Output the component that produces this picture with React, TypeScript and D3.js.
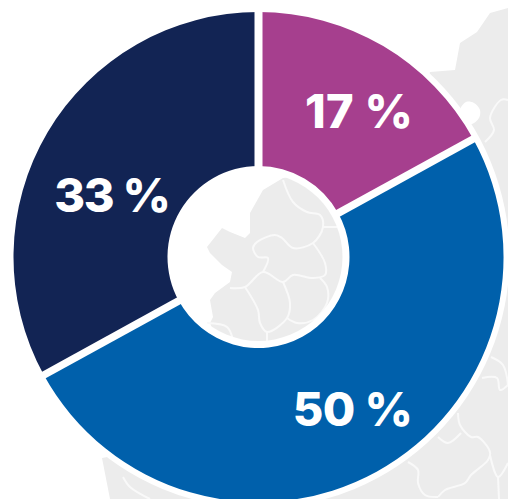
import React from "react";
import * as d3 from "d3";

const labels = ["17 %", "50 %", "33 %"];
const values = [17, 50, 33];
const colors = ["#a63f8e", "#0060ab", "#122454"];
const labelPos: [number, number][] = [[359, 128], [352.5, 426], [112, 212]];
const labelSpacing = [0.3, -0.6, -1.2];

type Pt = [number, number];

// Decorative background map, outlines as [x, y] pairs
const landOuter: Pt[] = [
  [508, 8], [490, 13], [477, 32], [460, 43], [455, 70], [430, 72], [420, 100], [440, 200], [400, 350], [200, 440], [102, 458], [110, 499], [508, 499],
];
const bay: Pt[] = [
  [460, 110], [466, 102], [474, 103], [480, 110], [479, 118], [472, 124], [462, 125],
];
const landHole: Pt[] = [
  [283, 178], [263, 190], [250, 213], [250, 233], [245, 238], [230, 232], [222, 228], [207, 247], [210, 253], [222, 265], [232, 272], [230, 282], [215, 293], [210, 300], [213, 317], [210, 323], [220, 350], [340, 350], [350, 170],
];
const bordersHole: Pt[][] = [
  [[283, 180], [293, 202], [307, 212], [320, 215], [323, 227], [313, 243], [293, 248], [282, 238], [275, 235], [257, 242], [253, 248], [258, 257], [268, 258], [263, 272]],
  [[323, 227], [337, 227]],
  [[313, 243], [325, 263], [325, 275], [313, 278], [293, 275], [283, 282], [263, 272], [245, 287], [230, 288]],
  [[245, 287], [258, 310], [260, 323], [267, 332], [287, 318], [290, 303], [283, 282]],
  [[267, 332], [267, 342]],
  [[287, 318], [297, 323], [313, 320], [327, 303], [327, 287], [320, 278]],
  [[207, 323], [227, 327], [233, 340]],
];
const bordersOuter: Pt[][] = [
  [[508, 100], [501, 100], [490, 118], [494, 130], [485, 142]],
  [[491, 357], [503, 365], [508, 385]],
  [[482, 378], [497, 378], [500, 390], [508, 385]],
  [[458, 413], [460, 425], [471, 437], [478, 437], [490, 452], [488, 460], [471, 475], [465, 483], [445, 490], [438, 497]],
  [[438, 437], [448, 443], [461, 433]],
  [[490, 455], [498, 477], [508, 463]],
  [[498, 477], [499, 499]],
  [[408, 462], [418, 470], [418, 483], [425, 495], [438, 497]],
  [[123, 477], [130, 487], [150, 499]],
];

const width = 508;
const height = 499;
const cx = 258.5;
const cy = 257;
const outer = 245;
const inner = 91;

export default function App() {
  const pie = d3.pie<number>().sort(null)(values);
  const arc = d3.arc<d3.PieArcDatum<number>>().innerRadius(inner).outerRadius(outer);
  const poly = d3.line();
  const open = d3.line().curve(d3.curveCatmullRom.alpha(0.5));
  const blob = d3.line().curve(d3.curveCatmullRomClosed.alpha(0.5));
  const map = (land: Pt[], borders: Pt[][], extra?: React.ReactNode) => (
    <g filter="url(#soft)">
      <path d={poly(land)! + "Z"} fill="#ececec" />
      {extra}
      <g fill="none" stroke="#f9f9f9" strokeWidth={2}>
        {borders.map((b, i) => (
          <path key={i} d={open(b)!} />
        ))}
      </g>
    </g>
  );
  return (
    <svg width={width} height={height} style={{ position: "absolute", left: 0, top: 0, background: "#fff" }}>
      <defs>
        <filter id="soft" x="-5%" y="-5%" width="110%" height="110%">
          <feGaussianBlur stdDeviation={0.7} />
        </filter>
        <clipPath id="hole">
          <circle cx={cx} cy={cy} r={84} />
        </clipPath>
      </defs>
      {map(landOuter, bordersOuter, <path d={blob(bay)!} fill="#fff" />)}
      <circle cx={cx} cy={cy} r={outer + 6} fill="#fff" />
      <g transform={`translate(${cx},${cy})`}>
        {pie.map((d, i) => (
          <path key={i} d={arc(d)!} fill={colors[i]} />
        ))}
        {pie.map((d, i) => {
          const sx = Math.sin(d.startAngle);
          const sy = -Math.cos(d.startAngle);
          return (
            <line key={i} x1={sx * (inner - 2)} y1={sy * (inner - 2)} x2={sx * (outer + 2)} y2={sy * (outer + 2)} stroke="#fff" strokeWidth={i === 0 ? 8 : 7.5} />
          );
        })}
      </g>
      <g clipPath="url(#hole)">{map(landHole, bordersHole)}</g>
      <g fontFamily="Inter" fontWeight={800} fontSize={47} fill="#fff" textAnchor="middle">
        {labels.map((t, i) => (
          <text key={t} x={labelPos[i][0]} y={labelPos[i][1]} letterSpacing={labelSpacing[i]}>{t}</text>
        ))}
      </g>
    </svg>
  );
}
